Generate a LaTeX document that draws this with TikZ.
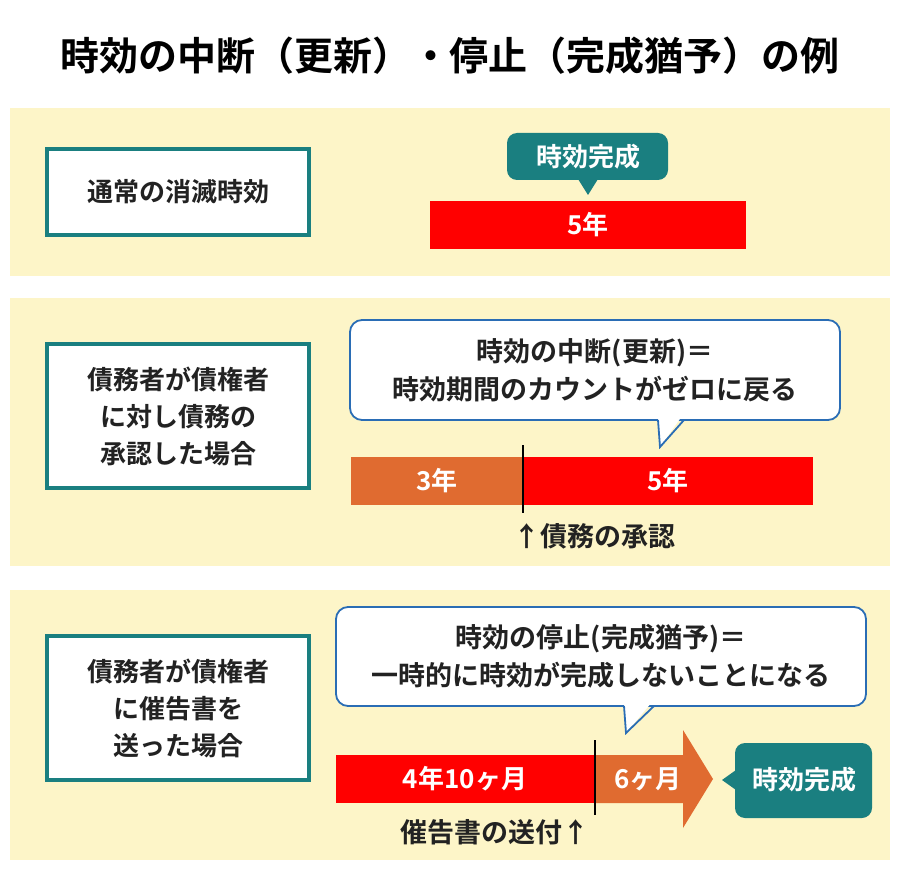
\documentclass[tikz,border=0pt]{standalone}
\usepackage{fontspec}
\setmainfont{Noto Sans CJK JP}
\newfontfamily\jpb{Noto Sans CJK JP Bold}
\newfontfamily\jpt{Noto Sans CJK JP Bold}
\definecolor{bgy}{HTML}{FDF5C8}
\definecolor{teal1}{HTML}{1A7F80}
\definecolor{blu}{HTML}{2A6DB5}
\definecolor{red1}{HTML}{FF0000}
\definecolor{org}{HTML}{E06B30}
\definecolor{ink}{HTML}{222222}
\tikzset{
 panel/.style={fill=bgy,draw=none},
 lbox/.style={draw=teal1,line width=3.5pt,fill=white,minimum width=262pt,align=center,text=ink,font=\jpb\fontsize{26}{37}\selectfont,inner sep=0pt},
 bartxt/.style={text=white,font=\jpb\fontsize{26}{30}\selectfont},
 lbl/.style={text=ink,font=\jpb\fontsize{27}{30}\selectfont},
 call/.style={draw=blu,line width=1.8pt,fill=white,rounded corners=12pt},
 tbox/.style={fill=teal1,rounded corners=10pt},
}
\begin{document}
\begin{tikzpicture}[x=1pt,y=-1pt]
\useasboundingbox (0,0) rectangle (900,885);
\fill[white] (0,0) rectangle (900,885);
\node[font=\jpt\fontsize{39}{44}\selectfont] (title) at (450,56) {時効の中断（更新）・停止（完成猶予）の例};
% panel 1
\fill[panel] (10,108) rectangle (890,276);
\node[lbox,minimum height=86pt] (b1) at (178,192) {通常の消滅時効};
\fill[tbox] (507,133) rectangle (668,180);
\fill[teal1] (578,179) -- (598,179) -- (588,195) -- cycle;
\node[bartxt] (c1) at (588,157) {時効完成};
\fill[red1] (430,201) rectangle (746,249);
\node[bartxt] (y1) at (588,225) {5年};
% panel 2
\fill[panel] (10,298) rectangle (890,566);
\node[lbox,minimum height=144pt] (b2) at (178,416) {債務者が債権者\\に対し債務の\\承認した場合};
\draw[call] (350,320) rectangle (840,420);
\fill[white] (658,416) -- (682,416) -- (660,447) -- cycle;
\draw[blu,line width=1.8pt] (658,420) -- (660,447) -- (684,420);
\node[align=center,text=ink,font=\jpb\fontsize{27}{38}\selectfont] (c2) at (595,370) {時効の中断(更新)＝\\時効期間のカウントがゼロに戻る};
\fill[org] (351,457) rectangle (523,505);
\fill[red1] (523,457) rectangle (813,505);
\node[bartxt] (y3) at (437,481) {3年};
\node[bartxt] (y5) at (668,481) {5年};
\draw[line width=2pt] (523,445) -- (523,513);
\node[lbl,anchor=west] (s2) at (510,536) {↑債務の承認};
% panel 3
\fill[panel] (10,590) rectangle (890,860);
\node[lbox,minimum height=144pt] (b3) at (178,708) {債務者が債権者\\に催告書を\\送った場合};
\draw[call] (336,607) rectangle (866,706);
\fill[white] (624,702) -- (652,702) -- (626,733) -- cycle;
\draw[blu,line width=1.8pt] (624,706) -- (626,733) -- (654,706);
\node[align=center,text=ink,font=\jpb\fontsize{27}{38}\selectfont] (c3) at (601,656) {時効の停止(完成猶予)＝\\一時的に時効が完成しないことになる};
\fill[red1] (336,755) rectangle (595,803);
\fill[org] (595,755) -- (683,755) -- (683,730) -- (713,779) -- (683,828) -- (683,803) -- (595,803) -- cycle;
\draw[line width=2pt] (595,740) -- (595,815);
\node[bartxt] (m1) at (465,779) {4年10ヶ月};
\node[bartxt] (m2) at (648,779) {6ヶ月};
\fill[tbox] (735,743) rectangle (872,818);
\fill[teal1] (736,770) -- (722,780) -- (736,790) -- cycle;
\node[bartxt] (c4) at (804,780) {時効完成};
\node[lbl] (s3) at (495,832) {催告書の送付↑};
\end{tikzpicture}
\end{document}
